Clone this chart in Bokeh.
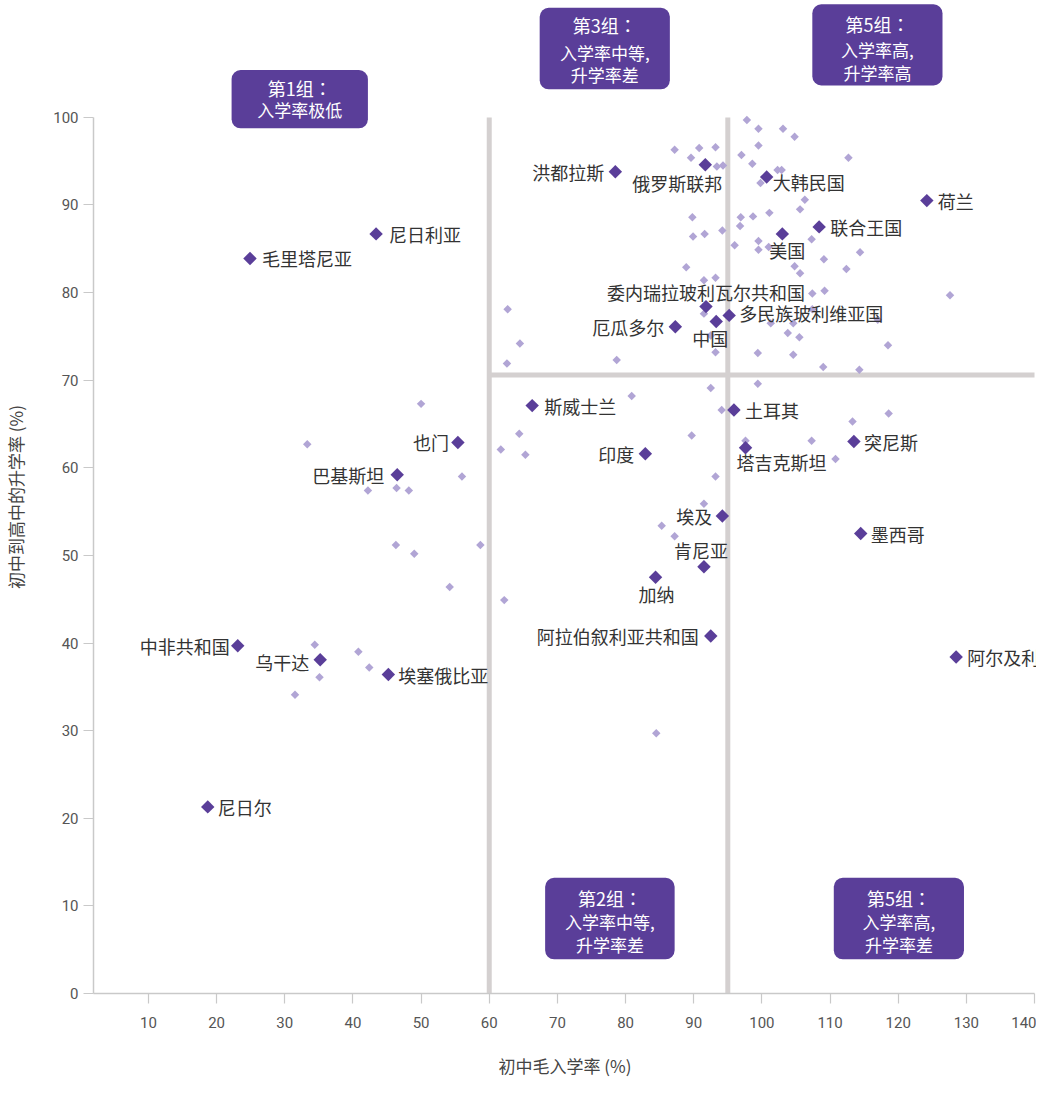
import numpy as np
from bokeh.plotting import figure
from bokeh.models import ColumnDataSource, Range1d, FixedTicker, BoxAnnotation
from bokeh.core.properties import value
from bokeh.embed import file_html
from bokeh.resources import INLINE

# ---------------- data ----------------
# highlighted countries: lower-secondary gross enrolment ratio (%) and transition rate to upper secondary (%)
names = ["毛里塔尼亚", "尼日利亚", "洪都拉斯", "俄罗斯联邦", "大韩民国", "荷兰", "联合王国", "美国",
         "委内瑞拉玻利瓦尔共和国", "多民族玻利维亚国", "中国", "厄瓜多尔", "斯威士兰", "土耳其", "也门",
         "突尼斯", "塔吉克斯坦", "印度", "巴基斯坦", "埃及", "墨西哥", "肯尼亚", "加纳",
         "阿拉伯叙利亚共和国", "阿尔及利亚", "中非共和国", "乌干达", "埃塞俄比亚", "尼日尔"]
enrol = [24.9, 43.4, 78.5, 91.7, 100.7, 124.2, 108.4, 103.0,
         91.8, 95.2, 93.3, 87.3, 66.3, 95.9, 55.4,
         113.5, 97.6, 82.9, 46.5, 94.2, 114.5, 91.5, 84.4,
         92.5, 128.5, 23.1, 35.2, 45.2, 18.7]
trans = [83.9, 86.7, 93.8, 94.6, 93.2, 90.5, 87.5, 86.7,
         78.4, 77.4, 76.7, 76.1, 67.1, 66.6, 62.9,
         63.0, 62.3, 61.6, 59.2, 54.5, 52.5, 48.7, 47.5,
         40.8, 38.4, 39.7, 38.1, 36.4, 21.3]

# other countries (unlabelled)
bg_enrol = [97.8, 99.5, 103.1, 104.8, 87.2, 90.8, 93.2, 99.5, 89.6, 97.0,
            112.7, 93.4, 94.3, 98.6, 102.3, 102.9, 99.8, 106.3, 105.6, 89.8,
            96.9, 98.7, 101.1, 96.8, 89.9, 91.6, 94.2, 107.3, 96.0, 99.5,
            99.5, 101.0, 114.4, 109.1, 88.9, 104.8, 105.6, 112.4, 91.5, 93.2,
            107.4, 109.2, 127.6, 62.7, 91.5, 107.4, 117.0, 101.3, 104.6, 64.5,
            92.5, 103.8, 105.5, 118.5, 62.6, 78.7, 93.2, 99.4, 104.6, 109.0,
            114.3, 92.5, 99.4, 80.9, 94.1, 118.6, 113.3, 64.4, 89.7, 61.7,
            65.3, 97.6, 107.3, 110.8, 93.2, 91.5, 85.3, 87.2, 58.7, 62.2,
            84.5, 50.0, 33.3, 56.0, 42.2, 46.4, 48.2, 46.3, 49.0, 54.2,
            34.4, 40.8, 42.4, 35.1, 31.5]
bg_trans = [99.7, 98.7, 98.7, 97.8, 96.3, 96.5, 96.6, 96.8, 95.4, 95.7,
            95.4, 94.4, 94.5, 94.7, 94.0, 94.0, 92.5, 90.6, 89.5, 88.6,
            88.6, 88.7, 89.1, 87.6, 86.4, 86.7, 87.1, 86.1, 85.4, 85.9,
            84.9, 85.2, 84.6, 83.8, 82.9, 83.0, 82.2, 82.7, 81.4, 81.7,
            79.9, 80.2, 79.7, 78.1, 77.6, 78.1, 76.9, 76.5, 76.5, 74.2,
            75.1, 75.4, 74.9, 74.0, 71.9, 72.3, 73.2, 73.1, 72.9, 71.5,
            71.2, 69.1, 69.6, 68.2, 66.6, 66.2, 65.3, 63.9, 63.7, 62.1,
            61.5, 63.1, 63.1, 61.0, 59.0, 55.9, 53.4, 52.2, 51.2, 44.9,
            29.7, 67.3, 62.7, 59.0, 57.4, 57.7, 57.4, 51.2, 50.2, 46.4,
            39.8, 39.0, 37.2, 36.1, 34.1]

# group thresholds
enrol_cuts = [60, 95]
trans_cut = 70.6

# group annotation texts
group_titles = ["第1组：", "第3组：", "第5组：", "第2组：", "第5组："]
group_lines = [["入学率极低"], ["入学率中等,", "升学率差"], ["入学率高,", "升学率高"],
               ["入学率中等,", "升学率差"], ["入学率高,", "升学率差"]]

x_ticks = [10, 20, 30, 40, 50, 60, 70, 80, 90, 100, 110, 120, 130, 140]
y_ticks = [0, 10, 20, 30, 40, 50, 60, 70, 80, 90, 100]

# ---------------- styling / layout ----------------
DARK = "#5a3e99"
LIGHT = "#b1a5d5"
SEP = "#d4d0d0"
CJK = "Noto Sans CJK SC"

# label placement: (align, x_offset px, y_offset px)
label_layout = {
    "毛里塔尼亚": ("left", 12, 0), "尼日利亚": ("left", 13, 0), "洪都拉斯": ("right", -11, 0),
    "俄罗斯联邦": ("center", -28, 18), "大韩民国": ("left", 6, 5), "荷兰": ("left", 11, 0),
    "联合王国": ("left", 11, 0), "美国": ("center", 5, 16), "委内瑞拉玻利瓦尔共和国": ("center", 0, -15),
    "多民族玻利维亚国": ("left", 10, -2), "中国": ("center", -6, 16), "厄瓜多尔": ("right", -11, 0),
    "斯威士兰": ("left", 12, 0), "土耳其": ("left", 11, 0), "也门": ("right", -9, 0),
    "突尼斯": ("left", 10, 0), "塔吉克斯坦": ("center", 36, 14), "印度": ("right", -11, 0),
    "巴基斯坦": ("right", -13, 0), "埃及": ("right", -10, 0), "墨西哥": ("left", 10, 0),
    "肯尼亚": ("center", -3, -17), "加纳": ("center", 1, 17), "阿拉伯叙利亚共和国": ("right", -12, 0),
    "阿尔及利亚": ("left", 11, 0), "中非共和国": ("right", -8, 0), "乌干达": ("right", -11, 2),
    "埃塞俄比亚": ("left", 10, 0), "尼日尔": ("left", 10, 0),
}

# group box extents in data units (left, right, bottom, top) and text line y positions
box_extents = [(22.2, 42.2, 98.75, 105.4), (67.4, 86.5, 103.2, 112.5), (107.4, 126.5, 103.65, 112.9),
               (68.2, 87.2, 3.9, 13.2), (110.55, 129.65, 3.9, 13.2)]
box_line_y = [[103.4, 100.9], [110.5, 107.45, 104.85], [110.7, 107.7, 105.15],
              [10.9, 8.25, 5.6], [10.9, 8.25, 5.6]]

p = figure(width=1036, height=1080, output_backend="svg", toolbar_location=None,
           x_range=Range1d(1.94, 140.29), y_range=Range1d(0, 113.34),
           min_border_left=92, min_border_right=0, min_border_top=0, min_border_bottom=86)
p.title = None
p.outline_line_color = None
p.xgrid.visible = False
p.ygrid.visible = False
p.background_fill_color = "white"
p.border_fill_color = "white"

for ax in (p.xaxis[0], p.yaxis[0]):
    ax.axis_line_color = "#c9c9c9"
    ax.axis_line_width = 1.5
    ax.major_tick_line_color = "#c9c9c9"
    ax.major_tick_line_width = 1.2
    ax.major_tick_out = 10
    ax.major_tick_in = 0
    ax.minor_tick_line_color = None
    ax.major_label_text_font = "Roboto"
    ax.major_label_text_font_size = "15px"
    ax.major_label_text_color = "#555555"
    ax.axis_label_text_font = CJK
    ax.axis_label_text_font_size = "17px"
    ax.axis_label_text_font_style = "normal"
    ax.axis_label_text_color = "#444444"

p.xaxis.ticker = FixedTicker(ticks=x_ticks)
p.yaxis.ticker = FixedTicker(ticks=y_ticks)
p.xaxis.bounds = (1.94, 140)
p.yaxis.bounds = (0, 100)
p.xaxis.axis_label = "初中毛入学率 (%)"
p.yaxis.axis_label = "初中到高中的升学率 (%)"
p.xaxis.major_label_standoff = 13
p.yaxis.major_label_standoff = 5
p.xaxis.axis_label_standoff = 22
p.yaxis.axis_label_standoff = 22

# separators
p.segment(x0=enrol_cuts, y0=[0, 0], x1=enrol_cuts, y1=[100, 100], line_color=SEP, line_width=5)
p.segment(x0=[enrol_cuts[0]], y0=[trans_cut], x1=[x_ticks[-1]], y1=[trans_cut], line_color=SEP, line_width=5)

# points
p.scatter(bg_enrol, bg_trans, marker="square", angle=np.pi / 4, size=6, fill_color=LIGHT, line_color=None)
p.scatter(enrol, trans, marker="square", angle=np.pi / 4, size=9.5, fill_color=DARK, line_color=None)

lab = ColumnDataSource(dict(
    x=enrol, y=trans, text=names,
    align=[label_layout[n][0] for n in names],
    dx=[label_layout[n][1] for n in names],
    dy=[label_layout[n][2] for n in names],
))
p.text(x="x", y="y", text="text", source=lab, text_align="align", x_offset="dx", y_offset="dy",
       text_baseline="middle", text_font=value(CJK), text_font_size="18px", text_color="#333333")

# group boxes
for (l, r, b, t), title, lines, ys in zip(box_extents, group_titles, group_lines, box_line_y):
    p.add_layout(BoxAnnotation(left=l, right=r, bottom=b, top=t, fill_color=DARK, fill_alpha=1.0,
                               line_color=None, border_radius=9, level="underlay"))
    cx = (l + r) / 2
    p.text(x=[cx], y=ys[:1], text=[title], text_align="center", text_baseline="middle",
           text_font=value("Noto Sans CJK JP"), text_font_size="18px", text_color="white", level="overlay")
    p.text(x=[cx] * len(lines), y=ys[1:], text=lines, text_align="center", text_baseline="middle",
           text_font=value(CJK), text_font_size="17px", text_color="white", level="overlay")

open("out.html", "w").write(file_html(p, INLINE))
